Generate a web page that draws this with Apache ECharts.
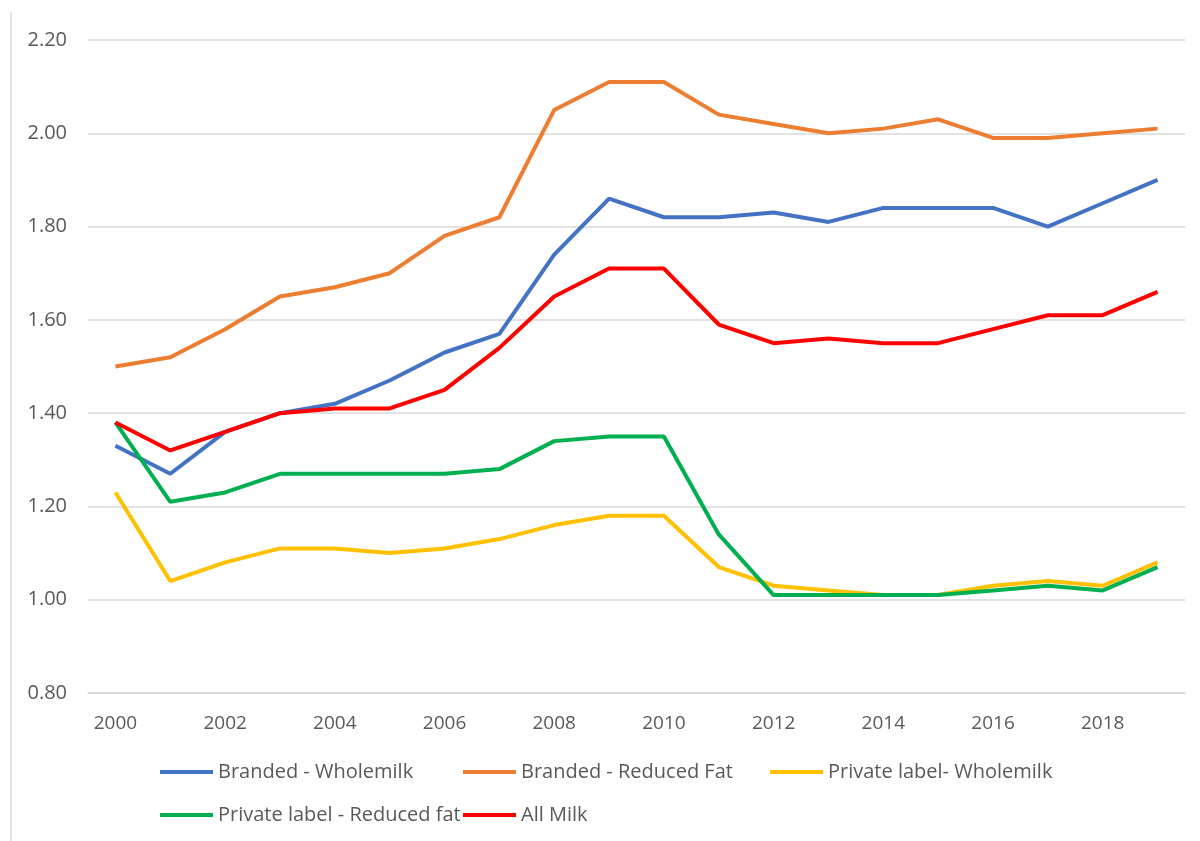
<!DOCTYPE html>
<html>
<head>
<meta charset="utf-8">
<script src="https://cdn.jsdelivr.net/npm/echarts@6/dist/echarts.min.js"></script>
<style>
html,body{margin:0;padding:0;background:#fff;}
#chart{width:1200px;height:841px;}
</style>
</head>
<body>
<div id="chart"></div>
<script>
var years = ['2000','2001','2002','2003','2004','2005','2006','2007','2008','2009','2010','2011','2012','2013','2014','2015','2016','2017','2018','2019'];
var brandedWhole = [1.33,1.27,1.36,1.40,1.42,1.47,1.53,1.57,1.74,1.86,1.82,1.82,1.83,1.81,1.84,1.84,1.84,1.80,1.85,1.90];
var brandedReduced = [1.50,1.52,1.58,1.65,1.67,1.70,1.78,1.82,2.05,2.11,2.11,2.04,2.02,2.00,2.01,2.03,1.99,1.99,2.00,2.01];
var privateWhole = [1.23,1.04,1.08,1.11,1.11,1.10,1.11,1.13,1.16,1.18,1.18,1.07,1.03,1.02,1.01,1.01,1.03,1.04,1.03,1.08];
var privateReduced = [1.38,1.21,1.23,1.27,1.27,1.27,1.27,1.28,1.34,1.35,1.35,1.14,1.01,1.01,1.01,1.01,1.02,1.03,1.02,1.07];
var allMilk = [1.38,1.32,1.36,1.40,1.41,1.41,1.45,1.54,1.65,1.71,1.71,1.59,1.55,1.56,1.55,1.55,1.58,1.61,1.61,1.66];

var names = ['Branded - Wholemilk','Branded - Reduced Fat','Private label- Wholemilk','Private label - Reduced fat','All Milk'];
var colors = ['#4472C4','#ED7D31','#FFC000','#00B050','#FF0000'];
var dataSets = [brandedWhole, brandedReduced, privateWhole, privateReduced, allMilk];

var font = '"Open Sans", "Noto Sans", sans-serif';
var txtColor = '#595959';

function legendCfg(left, data) {
  return {
    orient: 'vertical',
    left: left,
    top: 761,
    padding: 0,
    icon: 'rect',
    itemWidth: 53,
    itemHeight: 4,
    itemGap: 21,
    data: data,
    textStyle: {color: txtColor, fontSize: 20, fontFamily: font, lineHeight: 22}
  };
}

var chart = echarts.init(document.getElementById('chart'));
chart.setOption({
  animation: false,
  backgroundColor: '#fff',
  color: colors,
  grid: {left: 88, right: 15, top: 40, bottom: 148, containLabel: false},
  legend: [
    legendCfg(160, [names[0], names[3]]),
    legendCfg(463, [names[1], names[4]]),
    legendCfg(770, [names[2]])
  ],
  xAxis: {
    type: 'category',
    data: years,
    boundaryGap: true,
    axisLine: {show: true, lineStyle: {color: '#d9d9d9', width: 1.5}},
    axisTick: {show: false},
    axisLabel: {interval: 1, color: txtColor, fontSize: 19, fontFamily: font, margin: 21}
  },
  yAxis: {
    type: 'value',
    min: 0.8,
    max: 2.2,
    interval: 0.2,
    axisLine: {show: false},
    axisTick: {show: false},
    splitLine: {lineStyle: {color: '#d9d9d9', width: 1.5}},
    axisLabel: {color: txtColor, fontSize: 20, fontFamily: font, margin: 21,
      formatter: function (v) { return v.toFixed(2); }}
  },
  graphic: [{
    type: 'line',
    shape: {x1: 11, y1: 12, x2: 11, y2: 841},
    style: {stroke: '#d9d9d9', lineWidth: 1.5}
  }],
  series: names.map(function (n, i) {
    return {
      name: n,
      type: 'line',
      data: dataSets[i],
      symbol: 'none',
      lineStyle: {width: 4, color: colors[i]},
      itemStyle: {color: colors[i]}
    };
  })
});
</script>
</body>
</html>
